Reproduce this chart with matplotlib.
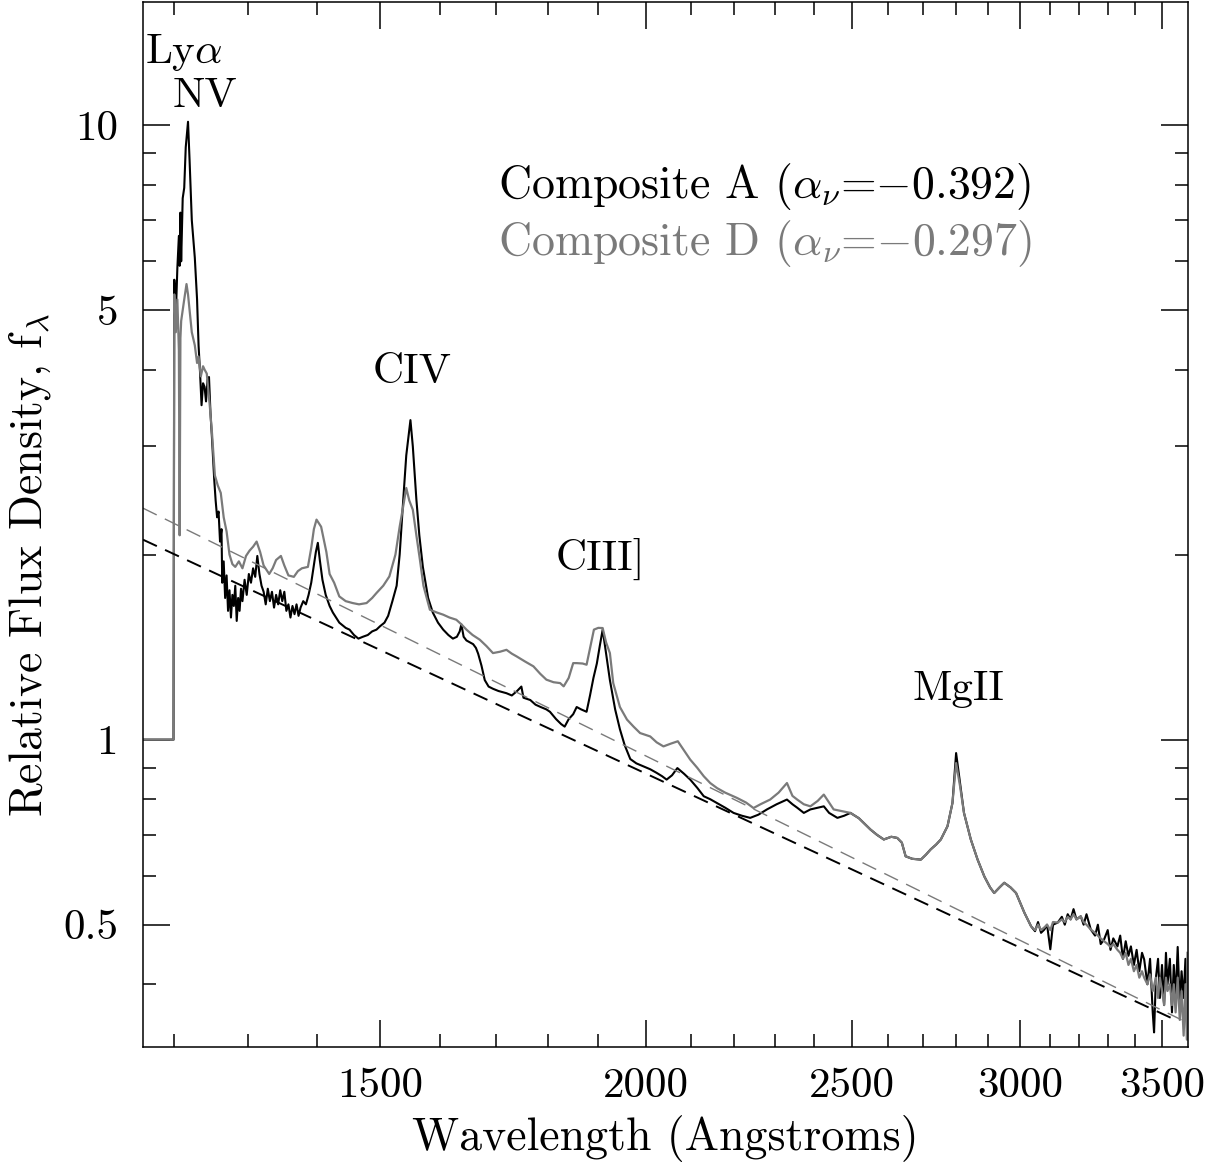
import matplotlib
matplotlib.use("Agg")
import matplotlib.pyplot as plt
from matplotlib.ticker import FixedLocator, FixedFormatter, NullFormatter

plt.rcParams["font.family"] = "cmr10"
plt.rcParams["mathtext.fontset"] = "cm"
plt.rcParams["axes.unicode_minus"] = False
plt.rcParams["lines.scale_dashes"] = False

# Composite A (black): wavelength (Angstrom), relative f_lambda
wave_a = [1160, 1199, 1200, 1202, 1204, 1206, 1207, 1208, 1209, 1211, 1213, 1215, 1218, 1220,
          1223, 1227, 1230, 1232, 1234, 1236, 1238, 1240, 1242, 1244, 1246, 1248, 1250, 1253,
          1255, 1257, 1259, 1261, 1263, 1264, 1266, 1268, 1270, 1272, 1274, 1276, 1278, 1280,
          1282, 1284, 1286, 1288, 1290, 1292, 1295, 1298, 1301, 1304, 1307, 1310, 1313, 1316,
          1319, 1322, 1325, 1328, 1331, 1334, 1337, 1340, 1343, 1346, 1349, 1352, 1355, 1358,
          1361, 1364, 1367, 1370, 1373, 1376, 1380, 1384, 1388, 1392, 1396, 1399, 1402, 1405,
          1409, 1414, 1420, 1425, 1435, 1445, 1451, 1458, 1465, 1472, 1480, 1487, 1494, 1500,
          1507, 1513, 1520, 1527, 1532, 1538, 1543, 1550, 1554, 1560, 1565, 1571, 1580, 1588,
          1597, 1606, 1615, 1623, 1630, 1635, 1638, 1642, 1647, 1653, 1659, 1664, 1668, 1674,
          1680, 1687, 1695, 1705, 1720, 1730, 1740, 1748, 1752, 1765, 1775, 1785, 1796, 1803,
          1815, 1825, 1832, 1840, 1849, 1856, 1865, 1876, 1883, 1890, 1897, 1903, 1909, 1915,
          1924, 1935, 1945, 1955, 1967, 1980, 1995, 2010, 2024, 2036, 2046, 2058, 2070, 2085,
          2099, 2115, 2130, 2145, 2160, 2180, 2200, 2220, 2240, 2260, 2281, 2305, 2331, 2345,
          2357, 2374, 2391, 2410, 2426, 2440, 2462, 2480, 2497, 2520, 2552, 2570, 2589, 2610,
          2627, 2640, 2651, 2670, 2695, 2710, 2724, 2740, 2754, 2774, 2789, 2800, 2812, 2824,
          2845, 2866, 2887, 2905, 2918, 2935, 2950, 2970, 2988, 3000, 3015, 3037, 3050, 3060,
          3070, 3081, 3090, 3101, 3110, 3126, 3140, 3150, 3160, 3170, 3180, 3190, 3205, 3215,
          3225, 3240, 3255, 3265, 3275, 3287, 3300, 3310, 3320, 3335, 3345, 3355, 3365, 3375,
          3384, 3395, 3405, 3415, 3425, 3433, 3445, 3455, 3465, 3470, 3477, 3485, 3492, 3500,
          3508, 3515, 3521, 3530, 3538, 3545, 3552, 3560, 3568, 3575, 3583, 3590, 3596]
flux_a = [1.00, 1.00, 5.60, 4.90, 5.85, 6.60, 5.90, 7.20, 6.00, 7.60, 7.90, 9.20, 10.12, 8.80,
          7.00, 6.08, 5.20, 4.38, 3.95, 3.50, 3.80, 3.75, 3.55, 3.85, 3.89, 3.40, 3.10, 2.66,
          2.45, 2.30, 2.35, 2.10, 2.20, 1.80, 1.95, 1.70, 1.85, 1.62, 1.75, 1.58, 1.72, 1.65,
          1.78, 1.56, 1.70, 1.62, 1.76, 1.68, 1.82, 1.72, 1.86, 1.80, 1.90, 1.84, 1.99, 1.86,
          1.78, 1.74, 1.66, 1.76, 1.68, 1.74, 1.64, 1.72, 1.66, 1.75, 1.68, 1.74, 1.62, 1.66,
          1.58, 1.65, 1.60, 1.66, 1.59, 1.64, 1.68, 1.66, 1.72, 1.80, 1.92, 2.02, 2.09, 1.96,
          1.82, 1.72, 1.65, 1.61, 1.55, 1.52, 1.51, 1.48, 1.46, 1.47, 1.48, 1.50, 1.51, 1.53,
          1.55, 1.59, 1.68, 1.78, 2.00, 2.46, 2.90, 3.31, 3.00, 2.46, 2.15, 1.91, 1.70, 1.61,
          1.55, 1.51, 1.48, 1.46, 1.47, 1.50, 1.54, 1.47, 1.45, 1.44, 1.43, 1.41, 1.38, 1.32,
          1.25, 1.22, 1.21, 1.20, 1.19, 1.18, 1.20, 1.22, 1.17, 1.16, 1.14, 1.13, 1.12, 1.11,
          1.08, 1.06, 1.05, 1.08, 1.10, 1.13, 1.12, 1.11, 1.18, 1.26, 1.33, 1.42, 1.51, 1.40,
          1.25, 1.12, 1.04, 0.98, 0.93, 0.915, 0.905, 0.895, 0.883, 0.872, 0.861, 0.875, 0.899, 0.880,
          0.861, 0.835, 0.809, 0.800, 0.789, 0.775, 0.760, 0.752, 0.746, 0.755, 0.770, 0.785, 0.799, 0.785,
          0.775, 0.760, 0.770, 0.775, 0.779, 0.760, 0.746, 0.752, 0.760, 0.745, 0.714, 0.700, 0.688, 0.695,
          0.692, 0.680, 0.646, 0.640, 0.638, 0.650, 0.663, 0.675, 0.688, 0.723, 0.789, 0.951, 0.850, 0.760,
          0.688, 0.638, 0.599, 0.575, 0.563, 0.575, 0.585, 0.575, 0.563, 0.545, 0.523, 0.497, 0.488, 0.505,
          0.485, 0.491, 0.500, 0.456, 0.500, 0.504, 0.515, 0.500, 0.520, 0.510, 0.530, 0.510, 0.516, 0.500,
          0.520, 0.491, 0.480, 0.500, 0.465, 0.473, 0.490, 0.455, 0.475, 0.461, 0.480, 0.440, 0.470, 0.445,
          0.461, 0.430, 0.455, 0.420, 0.450, 0.439, 0.400, 0.440, 0.360, 0.334, 0.410, 0.440, 0.380, 0.430,
          0.370, 0.450, 0.400, 0.440, 0.360, 0.430, 0.380, 0.460, 0.370, 0.420, 0.380, 0.440, 0.340]

# Composite D (grey)
wave_d = [1160, 1199, 1200, 1202, 1204, 1206, 1207, 1208, 1209, 1211, 1213, 1216, 1218, 1220,
          1223, 1227, 1230, 1232, 1235, 1238, 1240, 1243, 1247, 1250, 1254, 1258, 1262, 1266,
          1270, 1274, 1278, 1282, 1287, 1292, 1297, 1302, 1307, 1312, 1317, 1322, 1330, 1335,
          1340, 1347, 1352, 1358, 1366, 1372, 1378, 1387, 1392, 1396, 1400, 1407, 1415, 1420,
          1427, 1435, 1445, 1456, 1466, 1478, 1487, 1494, 1505, 1515, 1525, 1532, 1538, 1543,
          1548, 1554, 1560, 1566, 1572, 1583, 1595, 1606, 1617, 1629, 1638, 1647, 1658, 1671,
          1683, 1695, 1708, 1720, 1730, 1739, 1755, 1771, 1784, 1796, 1810, 1823, 1830, 1840,
          1849, 1856, 1868, 1876, 1884, 1891, 1900, 1909, 1916, 1924, 1931, 1945, 1960, 1974,
          1988, 2010, 2024, 2039, 2055, 2071, 2085, 2099, 2115, 2130, 2145, 2161, 2180, 2208,
          2230, 2248, 2265, 2289, 2310, 2331, 2345, 2357, 2374, 2391, 2410, 2426, 2440, 2452,
          2475, 2497, 2520, 2552, 2570, 2589, 2610, 2627, 2640, 2651, 2670, 2695, 2710, 2724,
          2740, 2754, 2774, 2789, 2800, 2812, 2824, 2845, 2866, 2887, 2905, 2918, 2935, 2950,
          2970, 2988, 3000, 3015, 3037, 3050, 3060, 3070, 3081, 3090, 3101, 3110, 3126, 3140,
          3150, 3160, 3170, 3180, 3190, 3205, 3215, 3225, 3240, 3255, 3265, 3275, 3287, 3300,
          3310, 3320, 3335, 3345, 3355, 3365, 3375, 3384, 3395, 3405, 3415, 3425, 3433, 3445,
          3455, 3465, 3477, 3485, 3492, 3500, 3508, 3515, 3521, 3530, 3538, 3545, 3552, 3560,
          3568, 3575, 3583, 3590, 3596, 3598]
flux_d = [1.00, 1.00, 5.30, 4.60, 5.20, 4.30, 2.15, 4.50, 4.80, 5.00, 5.20, 5.51, 5.30, 5.00,
          4.60, 4.38, 4.10, 4.20, 3.90, 4.05, 4.00, 3.94, 3.50, 3.16, 2.69, 2.59, 2.52, 2.30,
          2.18, 2.00, 1.93, 1.91, 1.95, 1.90, 1.99, 2.03, 2.06, 2.10, 2.02, 1.92, 1.86, 1.90,
          1.96, 1.99, 1.92, 1.85, 1.84, 1.88, 1.90, 1.91, 2.05, 2.20, 2.28, 2.22, 2.02, 1.86,
          1.80, 1.71, 1.68, 1.668, 1.66, 1.668, 1.70, 1.732, 1.78, 1.843, 2.00, 2.22, 2.40, 2.567,
          2.45, 2.366, 2.15, 1.962, 1.78, 1.627, 1.61, 1.597, 1.58, 1.567, 1.54, 1.51, 1.48, 1.454,
          1.42, 1.383, 1.39, 1.40, 1.38, 1.366, 1.34, 1.316, 1.28, 1.252, 1.24, 1.236, 1.221, 1.26,
          1.332, 1.332, 1.33, 1.324, 1.42, 1.51, 1.52, 1.519, 1.44, 1.383, 1.236, 1.13, 1.078, 1.05,
          1.025, 1.012, 0.99, 0.975, 0.985, 0.994, 0.96, 0.928, 0.90, 0.872, 0.85, 0.834, 0.82, 0.804,
          0.79, 0.774, 0.785, 0.799, 0.82, 0.850, 0.81, 0.799, 0.785, 0.779, 0.795, 0.814, 0.79, 0.770,
          0.765, 0.760, 0.745, 0.714, 0.700, 0.688, 0.695, 0.692, 0.680, 0.646, 0.640, 0.638, 0.650, 0.663,
          0.675, 0.688, 0.723, 0.789, 0.916, 0.840, 0.760, 0.688, 0.638, 0.599, 0.575, 0.563, 0.575, 0.585,
          0.575, 0.563, 0.545, 0.523, 0.497, 0.490, 0.500, 0.490, 0.495, 0.500, 0.490, 0.505, 0.504, 0.510,
          0.505, 0.515, 0.510, 0.520, 0.510, 0.516, 0.505, 0.500, 0.491, 0.485, 0.480, 0.475, 0.470, 0.465,
          0.460, 0.465, 0.455, 0.450, 0.440, 0.450, 0.430, 0.440, 0.420, 0.430, 0.410, 0.420, 0.410, 0.400,
          0.415, 0.390, 0.410, 0.380, 0.410, 0.390, 0.370, 0.410, 0.390, 0.400, 0.370, 0.400, 0.360, 0.410,
          0.350, 0.390, 0.330, 0.400, 0.325, 0.450]

# power-law continuum fits (end points)
cont_wave_a = [1160, 3545]
cont_flux_a = [2.115, 0.351]
cont_wave_d = [1160, 3575]
cont_flux_d = [2.380, 0.350]

x_major = [1500, 2000, 2500, 3000, 3500]
x_minor = [1200, 1300, 1400, 1600, 1700, 1800, 1900, 2100, 2200, 2300, 2400, 2600, 2700,
           2800, 2900, 3100, 3200, 3300, 3400]
y_major = [0.5, 1, 5, 10]
y_major_labels = ["0.5", "1", "5", "10"]
y_minor = [0.4, 0.6, 0.7, 0.8, 0.9, 2, 3, 4, 6, 7, 8, 9]

GREY = "#7a7a7a"

fig = plt.figure(figsize=(12.23, 11.64), dpi=100)
ax = fig.add_axes([143 / 1223, 117 / 1164, 1045 / 1223, 1045 / 1164])

ax.plot(wave_a, flux_a, color="black", lw=1.5)
ax.plot(wave_d, flux_d, color=GREY, lw=1.6)
ax.plot(cont_wave_a, cont_flux_a, color="black", lw=1.4, dashes=(11, 6.5))
ax.plot(cont_wave_d, cont_flux_d, color=GREY, lw=1.0, dashes=(11, 6.5))

ax.set_xscale("log")
ax.set_yscale("log")
ax.set_xlim(1160, 3600)
ax.set_ylim(10 ** -0.5, 10 ** 1.2)

ax.xaxis.set_major_locator(FixedLocator(x_major))
ax.xaxis.set_major_formatter(FixedFormatter([str(v) for v in x_major]))
ax.xaxis.set_minor_locator(FixedLocator(x_minor))
ax.xaxis.set_minor_formatter(NullFormatter())
ax.yaxis.set_major_locator(FixedLocator(y_major))
ax.yaxis.set_major_formatter(FixedFormatter(y_major_labels))
ax.yaxis.set_minor_locator(FixedLocator(y_minor))
ax.yaxis.set_minor_formatter(NullFormatter())

ax.tick_params(which="both", direction="in", top=True, right=True, width=1.1,
               labelsize=31)
ax.tick_params(which="major", length=19.5)
ax.tick_params(which="minor", length=9.5)
ax.tick_params(axis="x", which="major", pad=15)
ax.tick_params(axis="y", which="major", pad=18)
for s in ax.spines.values():
    s.set_linewidth(1.1)

fs = 31
ax.text(1212, 12.6, r"Ly$\alpha$", fontsize=fs, ha="center", va="baseline")
ax.text(1240, 10.7, "NV", fontsize=fs, ha="center", va="baseline")
ax.text(1552, 3.81, "CIV", fontsize=fs, ha="center", va="baseline")
ax.text(1905, 1.89, "CIII]", fontsize=fs, ha="center", va="baseline")
ax.text(2807, 1.16, "MgII", fontsize=fs, ha="center", va="baseline")

ax.text(0.3397, 0.8124, r"Composite A ($\alpha_\nu$=$-$0.392)", transform=ax.transAxes,
        fontsize=33, color="black", va="baseline")
ax.text(0.3397, 0.7579, r"Composite D ($\alpha_\nu$=$-$0.297)", transform=ax.transAxes,
        fontsize=33, color=GREY, va="baseline")

fig.text(665 / 1223, 1 - 1150 / 1164, "Wavelength (Angstroms)", fontsize=33,
         ha="center", va="baseline")
fig.text(30 / 1223, 1 - 565 / 1164, r"Relative Flux Density, f$_\lambda$", fontsize=33,
         rotation=90, ha="center", va="center")

fig.savefig("out.png", dpi=100)
